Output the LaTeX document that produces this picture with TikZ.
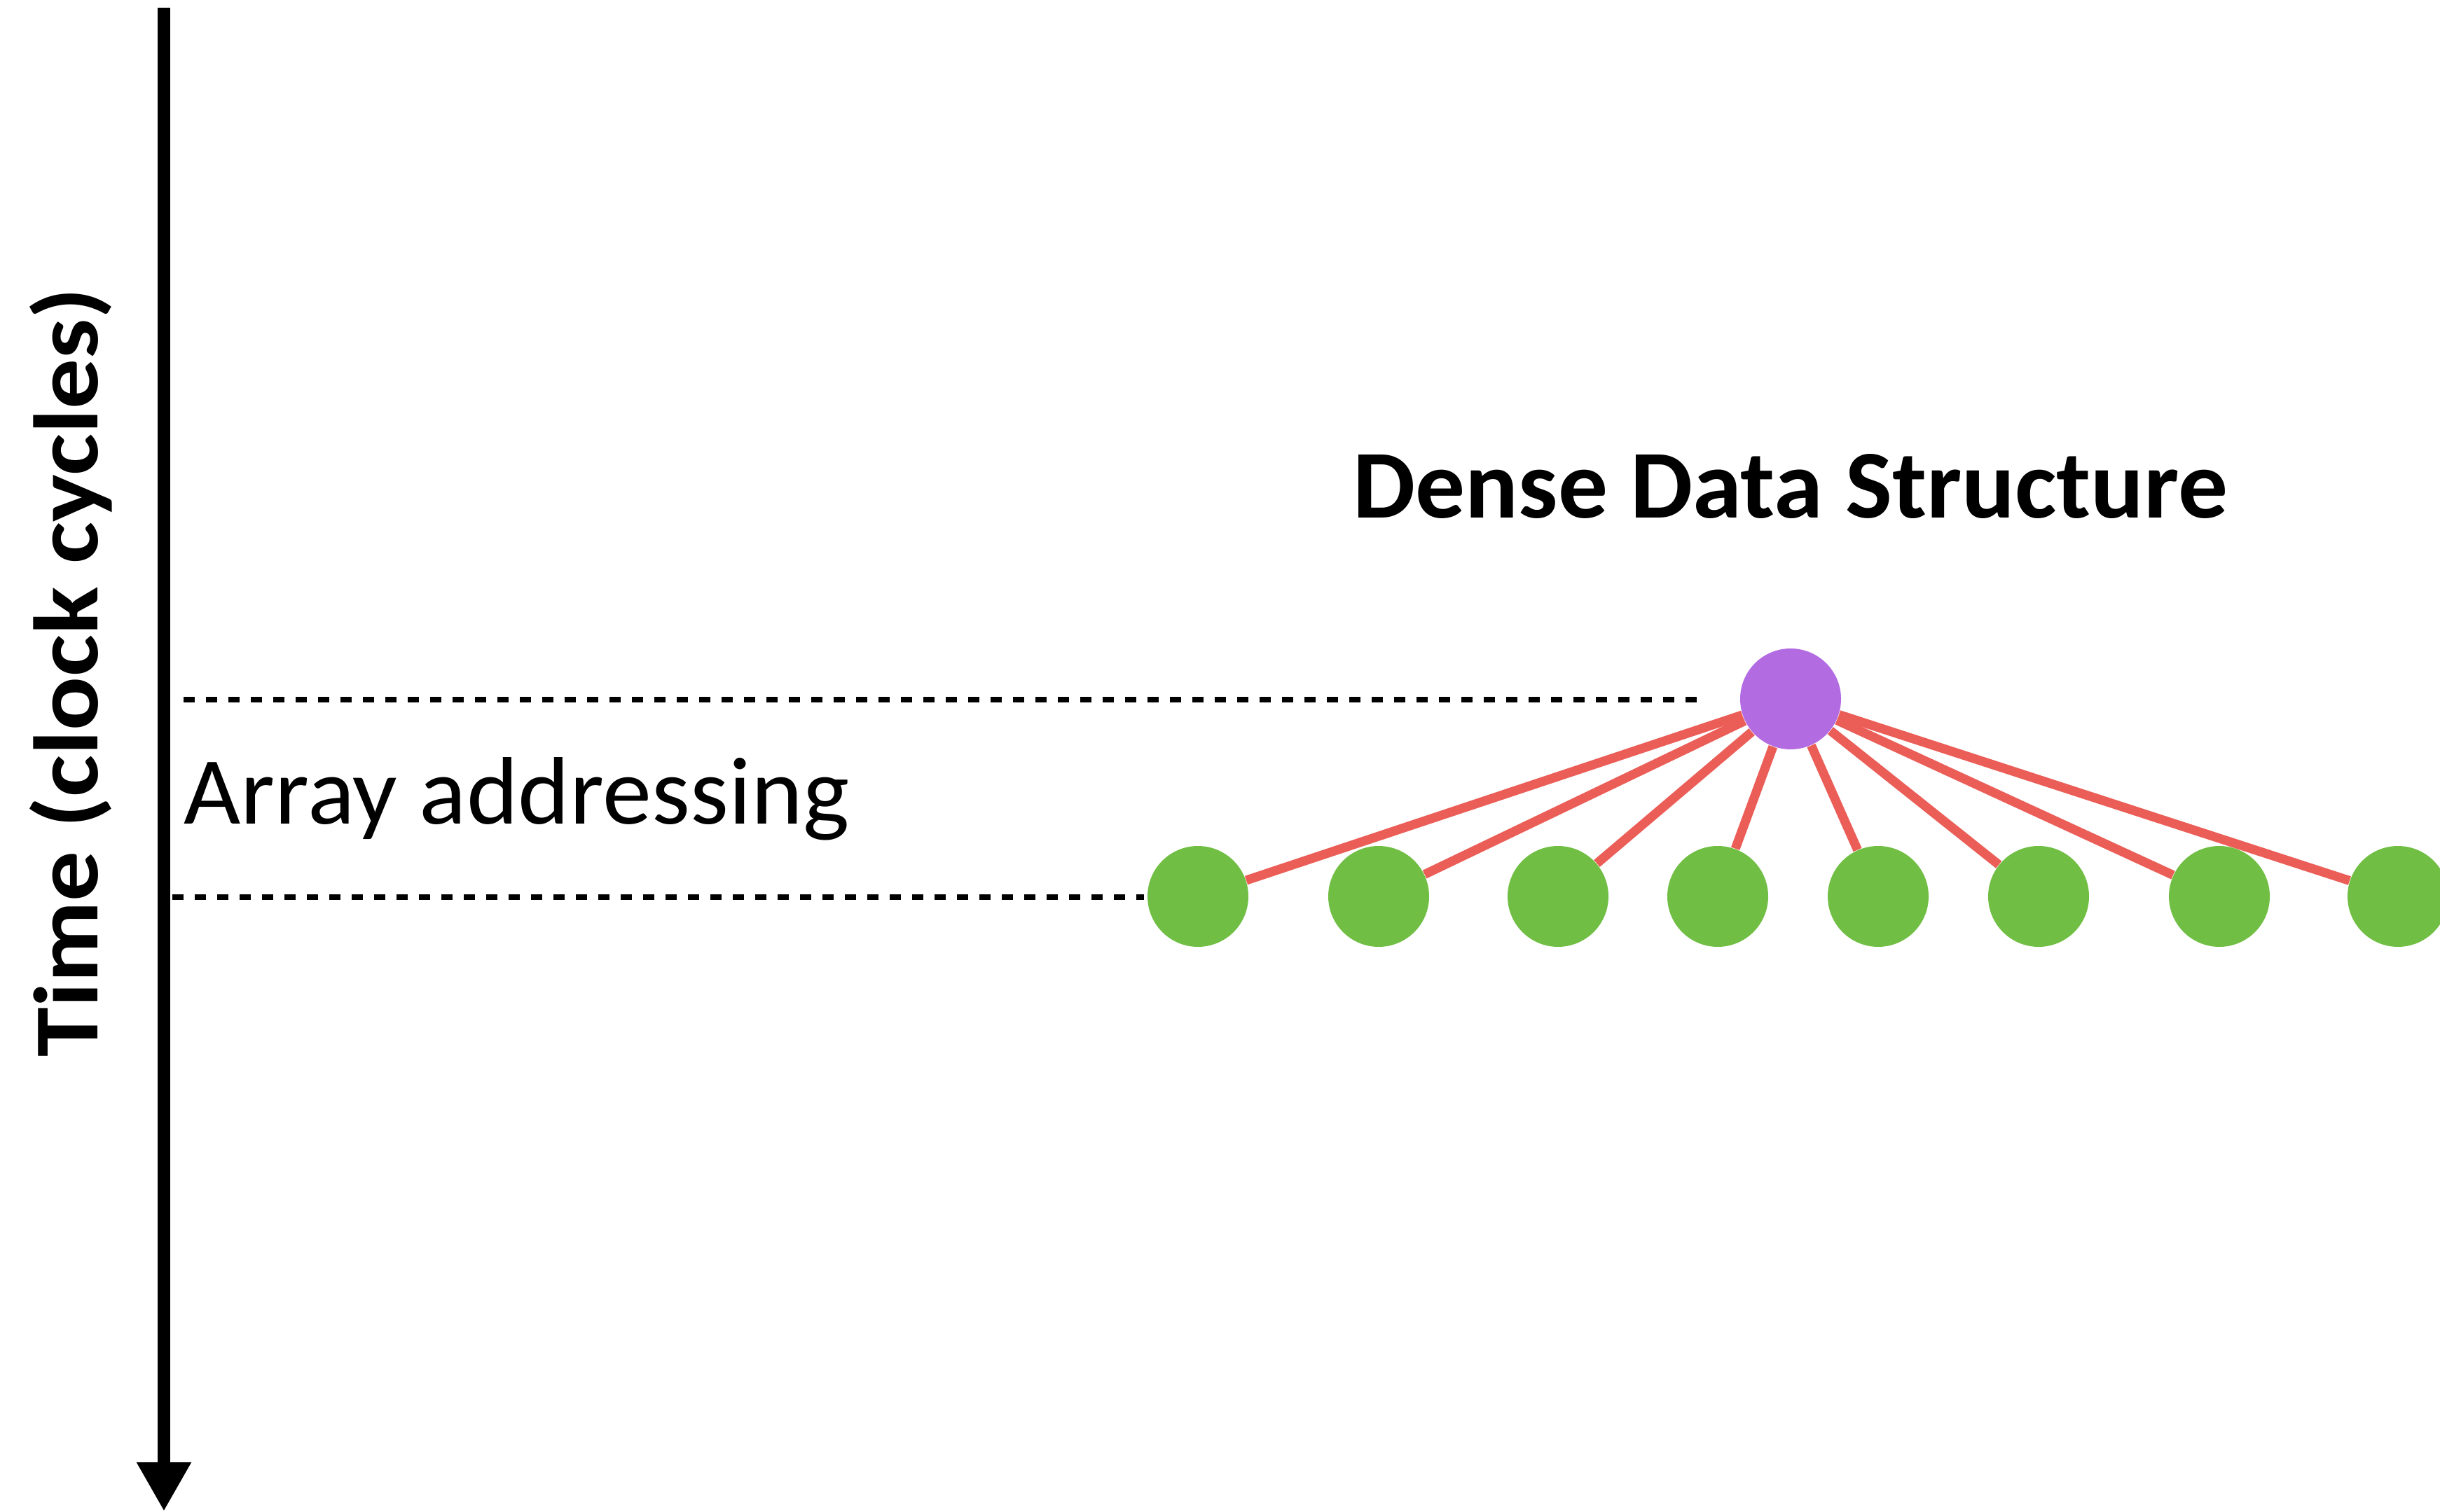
\documentclass[tikz,border=0pt]{standalone}
\usepackage{fontspec}
\usepackage{graphicx}
\usetikzlibrary{arrows.meta}
\setmainfont{Carlito}
\definecolor{rootviolet}{RGB}{179,107,226}
\definecolor{leafgreen}{RGB}{112,191,68}
\definecolor{linkred}{RGB}{235,94,88}
\tikzstyle{root}=[circle,fill=rootviolet,minimum size=1.44cm,inner sep=0pt]
\tikzstyle{leaf}=[circle,fill=leafgreen,minimum size=1.44cm,inner sep=0pt]
\tikzstyle{link}=[linkred,line width=3.7pt]
\tikzstyle{level}=[dash pattern=on 0.16cm off 0.16cm,line width=2pt]
\tikzstyle{timeaxis}=[line width=5.1pt,-{Triangle[width=0.73cm,length=0.70cm]}]

\begin{document}
\begin{tikzpicture}
  \useasboundingbox (0,0) rectangle (34.83,21.58);

  \coordinate (T0) at (2.34,21.47);
  \coordinate (T1) at (2.34,0);
  \coordinate (A0) at (2.62,11.59);
  \coordinate (A1) at (24.22,11.59);
  \coordinate (B0) at (2.46,8.77);
  \coordinate (B1) at (16.33,8.77);

  \node[rotate=90,anchor=base,inner sep=0] (time) at (1.40,11.98) {\resizebox{10.99cm}{0.97cm}{\bfseries Time (clock cycles)}};
  \node[anchor=base west,inner sep=0] (addr) at (2.62,9.81) {\resizebox{9.49cm}{0.95cm}{Array addressing}};
  \node[anchor=base,inner sep=0] (title) at (25.56,14.18) {\resizebox{12.49cm}{0.91cm}{\bfseries Dense Data Structure}};

  \node[root] (R) at (25.56,11.60) {};
  \node[leaf] (L1) at (17.10,8.78) {};
  \node[leaf] (L2) at (19.68,8.78) {};
  \node[leaf] (L3) at (22.24,8.78) {};
  \node[leaf] (L4) at (24.52,8.78) {};
  \node[leaf] (L5) at (26.81,8.78) {};
  \node[leaf] (L6) at (29.10,8.78) {};
  \node[leaf] (L7) at (31.68,8.78) {};
  \node[leaf] (L8) at (34.23,8.78) {};

  \draw[timeaxis] (T0)--(T1);
  \draw[level] (A0)--(A1);
  \draw[level] (B0)--(B1);

  % liens du tableau
  \draw[link] (R)--(L1); \draw[link] (R)--(L2); \draw[link] (R)--(L3); \draw[link] (R)--(L4);
  \draw[link] (R)--(L5); \draw[link] (R)--(L6); \draw[link] (R)--(L7); \draw[link] (R)--(L8);

\end{tikzpicture}
\end{document}
